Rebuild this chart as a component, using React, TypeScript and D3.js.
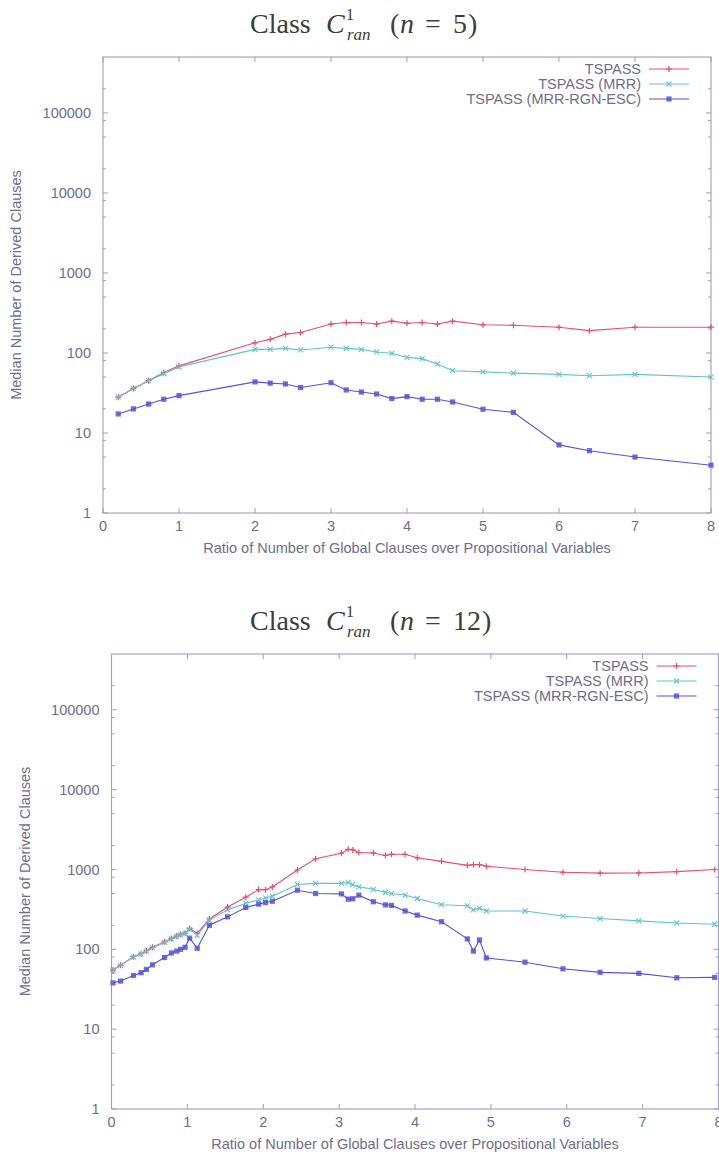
import React from "react";
import * as d3 from "d3";

// ---------- data ----------
const seriesNames = ["TSPASS", "TSPASS (MRR)", "TSPASS (MRR-RGN-ESC)"];
const xTickValues = [0, 1, 2, 3, 4, 5, 6, 7, 8];
const yTickValues = [1, 10, 100, 1000, 10000, 100000];
const yTickLabels = ["1", "10", "100", "1000", "10000", "100000"];
const yDomain = [1, 500000];
const minorMultipliers = [2, 5, 8];
const xAxisTitle = "Ratio of Number of Global Clauses over Propositional Variables";
const yAxisTitle = "Median Number of Derived Clauses";

// Class C^1_ran (n = 5)
const topN = "5";
const topX = [0.2, 0.4, 0.6, 0.8, 1.0, 2.0, 2.2, 2.4, 2.6, 3.0, 3.2, 3.4, 3.6, 3.8, 4.0, 4.2, 4.4, 4.6, 5.0, 5.4, 6.0, 6.4, 7.0, 8.0];
const topTspass = [28, 36, 45, 57, 69, 134, 148, 172, 180, 230, 240, 240, 230, 250, 235, 240, 230, 250, 225, 222, 210, 190, 210, 210];
const topMrr = [28, 36, 45, 55, 67, 111, 111, 114, 109, 118, 114, 111, 103, 99, 88, 85, 73, 60, 58, 56, 54, 52, 54, 50];
const topEsc = [17.3, 20, 23, 26.4, 29.3, 43.5, 42, 41, 37, 42.5, 34.5, 32.5, 30.7, 26.9, 28.5, 26.4, 26.4, 24.4, 19.8, 18.1, 7.1, 6.0, 5.0, 3.96];

// Class C^1_ran (n = 12)
const botN = "12";
const botX = [0.02, 0.12, 0.29, 0.39, 0.46, 0.54, 0.70, 0.79, 0.86, 0.91, 0.97, 1.03, 1.13, 1.29, 1.53, 1.77, 1.94, 2.03, 2.12, 2.45, 2.69, 3.03, 3.12, 3.18, 3.26, 3.45, 3.61, 3.69, 3.87, 4.03, 4.35, 4.69, 4.77, 4.85, 4.94, 5.45, 5.95, 6.44, 6.95, 7.45, 7.95];
const botTspass = [55, 63, 81, 88, 96, 106, 124, 137, 147, 155, 159, 182, 158, 240, 338, 450, 560, 558, 604, 985, 1360, 1600, 1790, 1760, 1630, 1610, 1500, 1550, 1550, 1400, 1265, 1125, 1150, 1150, 1100, 1000, 925, 900, 905, 940, 1000];
const botMrr = [55, 63, 80, 87, 95, 105, 122, 135, 145, 152, 157, 178, 150, 232, 312, 378, 415, 440, 462, 650, 670, 670, 688, 645, 605, 565, 515, 500, 478, 433, 362, 351, 312, 327, 302, 302, 261, 243, 227, 214, 206];
const botEsc = [38, 40, 47, 51, 56, 64, 79, 90, 95, 100, 106, 138, 103, 200, 255, 335, 368, 385, 400, 550, 500, 495, 425, 430, 477, 395, 360, 355, 302, 268, 222, 135, 95, 131, 78, 69, 57, 51.5, 50, 44, 44.5];

// ---------- style ----------
const SANS = "'Liberation Sans', Arial, Helvetica, sans-serif";
const SERIF = "'Liberation Serif', 'Times New Roman', serif";
const TEXT_COLOR = "#6e6e8a";
const FRAME_COLOR = "#9c9cca";
const COLORS = ["#e2506f", "#66c2c9", "#5454d6"];
const MARKERS = ["plus", "cross", "square"];

type Frame = { left: number; right: number; top: number; bottom: number };

function Marker({ kind, cx, cy, color }: { kind: string; cx: number; cy: number; color: string }) {
  if (kind === "plus") {
    return <path d={`M${cx - 3},${cy}H${cx + 3}M${cx},${cy - 3}V${cy + 3}`} stroke={color} strokeWidth={1.2} />;
  }
  if (kind === "cross") {
    return <path d={`M${cx - 2.5},${cy - 2.5}L${cx + 2.5},${cy + 2.5}M${cx - 2.5},${cy + 2.5}L${cx + 2.5},${cy - 2.5}`} stroke={color} strokeWidth={1.1} />;
  }
  return <rect x={cx - 2.6} y={cy - 2.6} width={5.2} height={5.2} fill={color} opacity={0.85} />;
}

function Panel({ frame, xs, values, n, titleBaseline }: { frame: Frame; xs: number[]; values: number[][]; n: string; titleBaseline: number }) {
  const x = d3.scaleLinear().domain([xTickValues[0], xTickValues[xTickValues.length - 1]]).range([frame.left, frame.right]);
  const y = d3.scaleLog().domain(yDomain).range([frame.bottom, frame.top]);
  const line = d3
    .line<[number, number]>()
    .x((d) => x(d[0]))
    .y((d) => y(d[1]));

  const minor: number[] = [];
  yTickValues.forEach((v) => {
    minorMultipliers.forEach((m) => {
      const val = v * m;
      if (val < yDomain[1]) minor.push(val);
    });
  });

  const cy = (frame.top + frame.bottom) / 2;
  const cx = (frame.left + frame.right) / 2;
  const B = titleBaseline;
  const numX = 453;
  const closeX = numX + 14 * n.length + 1;

  return (
    <g>
      {/* title */}
      <g fill="#3c3c3c" fontFamily={SERIF}>
        <text x={250} y={B} fontSize={28}>Class</text>
        <text x={326} y={B} fontSize={28} fontStyle="italic">C</text>
        <text x={346} y={B - 13} fontSize={16}>1</text>
        <text x={347} y={B + 7} fontSize={17} fontStyle="italic">ran</text>
        <text x={390} y={B} fontSize={28}>(</text>
        <text x={400} y={B} fontSize={28} fontStyle="italic">n</text>
        <text x={425} y={B} fontSize={28}>=</text>
        <text x={numX} y={B} fontSize={28}>{n}</text>
        <text x={closeX} y={B} fontSize={28}>)</text>
      </g>

      {/* frame */}
      <rect x={frame.left} y={frame.top} width={frame.right - frame.left} height={frame.bottom - frame.top} fill="none" stroke={FRAME_COLOR} strokeWidth={1.1} />

      {/* y ticks */}
      {yTickValues.map((v, i) => (
        <g key={"yt" + i}>
          <line x1={frame.left} x2={frame.left + 5} y1={y(v)} y2={y(v)} stroke={FRAME_COLOR} />
          <line x1={frame.right} x2={frame.right - 5} y1={y(v)} y2={y(v)} stroke={FRAME_COLOR} />
          <text x={frame.left - 12} y={y(v)} dy="0.35em" textAnchor="end" fontFamily={SANS} fontSize={14.5} fill={TEXT_COLOR}>
            {yTickLabels[i]}
          </text>
        </g>
      ))}
      {minor.map((v, i) => (
        <g key={"ym" + i}>
          <line x1={frame.left} x2={frame.left + 3} y1={y(v)} y2={y(v)} stroke={FRAME_COLOR} />
          <line x1={frame.right} x2={frame.right - 3} y1={y(v)} y2={y(v)} stroke={FRAME_COLOR} />
        </g>
      ))}

      {/* x ticks */}
      {xTickValues.map((v, i) => (
        <g key={"xt" + i}>
          <line x1={x(v)} x2={x(v)} y1={frame.bottom} y2={frame.bottom - 5} stroke={FRAME_COLOR} />
          <line x1={x(v)} x2={x(v)} y1={frame.top} y2={frame.top + 5} stroke={FRAME_COLOR} />
          <text x={x(v)} y={frame.bottom + 18} textAnchor="middle" fontFamily={SANS} fontSize={14.5} fill={TEXT_COLOR}>
            {String(v)}
          </text>
        </g>
      ))}

      {/* axis titles */}
      <text x={cx} y={frame.bottom + 40} textAnchor="middle" fontFamily={SANS} fontSize={14.5} fill={TEXT_COLOR}>
        {xAxisTitle}
      </text>
      <text
        transform={`translate(${frame.left - 87},${cy}) rotate(-90)`}
        textAnchor="middle"
        dy="0.35em"
        fontFamily={SANS}
        fontSize={14.5}
        fill={TEXT_COLOR}
      >
        {yAxisTitle}
      </text>

      {/* series */}
      {values.map((vals, si) => {
        const pts: [number, number][] = xs.map((xv, k) => [xv, vals[k]]);
        return (
          <g key={"s" + si}>
            <path d={line(pts) || ""} fill="none" stroke={COLORS[si]} strokeWidth={1.1} />
            {pts.map((p, k) => (
              <Marker key={k} kind={MARKERS[si]} cx={x(p[0])} cy={y(p[1])} color={COLORS[si]} />
            ))}
          </g>
        );
      })}

      {/* legend */}
      {seriesNames.map((name, si) => {
        const ly = frame.top + 12 + si * 15;
        return (
          <g key={"l" + si}>
            <text x={frame.right - 70} y={ly} dy="0.35em" textAnchor="end" fontFamily={SANS} fontSize={14.5} fill={TEXT_COLOR}>
              {name}
            </text>
            <line x1={frame.right - 62} x2={frame.right - 22} y1={ly} y2={ly} stroke={COLORS[si]} strokeWidth={1.1} />
            <Marker kind={MARKERS[si]} cx={frame.right - 42} cy={ly} color={COLORS[si]} />
          </g>
        );
      })}
    </g>
  );
}

export default function App() {
  const topFrame: Frame = { left: 103, right: 711, top: 57, bottom: 513 };
  const botFrame: Frame = { left: 111.5, right: 718.5, top: 654, bottom: 1109 };
  return (
    <svg
      width={719}
      height={1158}
      viewBox="0 0 719 1158"
      style={{ position: "absolute", left: 0, top: 0, background: "#ffffff" }}
    >
      <rect x={0} y={0} width={719} height={1158} fill="#ffffff" />
      <Panel frame={topFrame} xs={topX} values={[topTspass, topMrr, topEsc]} n={topN} titleBaseline={33} />
      <Panel frame={botFrame} xs={botX} values={[botTspass, botMrr, botEsc]} n={botN} titleBaseline={630} />
    </svg>
  );
}
